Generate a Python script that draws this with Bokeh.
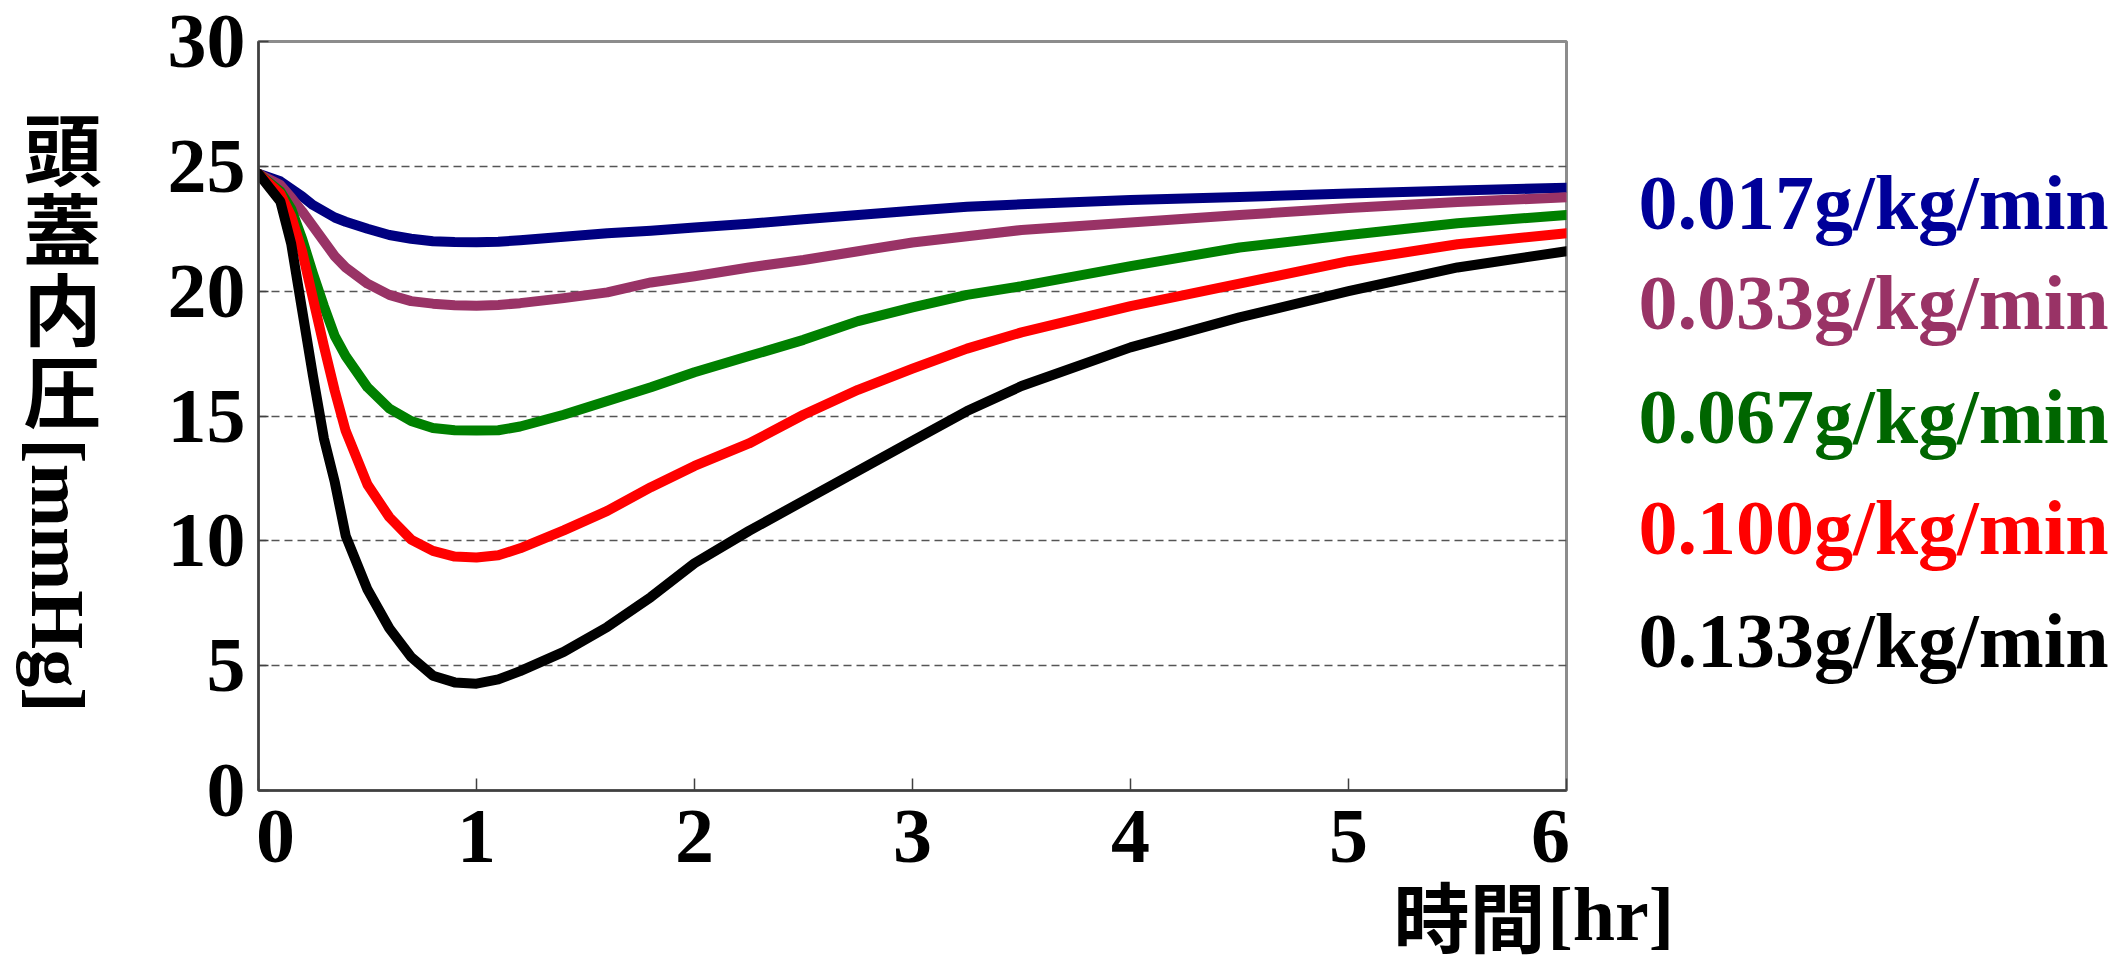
import math
from bokeh.plotting import figure
from bokeh.models import Range1d, FixedTicker
from bokeh.layouts import row, column
from bokeh.core.properties import value
from bokeh.embed import file_html
from bokeh.resources import INLINE

# ---------------- data ----------------
time_hr = [0, 0.1, 0.15, 0.2, 0.25, 0.3, 0.35, 0.4, 0.5, 0.6, 0.7, 0.8, 0.9, 1.0,
           1.1, 1.2, 1.4, 1.6, 1.8, 2.0, 2.25, 2.5, 2.75, 3.0, 3.25, 3.5, 4.0,
           4.5, 5.0, 5.5, 6.0]

icp_017 = [24.7, 24.4, 24.1, 23.8, 23.45, 23.2, 22.95, 22.78, 22.5, 22.25, 22.1,
           22.0, 21.97, 21.96, 21.98, 22.04, 22.18, 22.32, 22.42, 22.55, 22.7,
           22.88, 23.05, 23.22, 23.38, 23.48, 23.65, 23.77, 23.91, 24.03, 24.14]

icp_033 = [24.7, 24.25, 23.75, 23.2, 22.6, 22.0, 21.4, 20.95, 20.3, 19.85, 19.6,
           19.5, 19.44, 19.42, 19.45, 19.52, 19.72, 19.95, 20.35, 20.6, 20.95,
           21.25, 21.6, 21.95, 22.2, 22.45, 22.75, 23.05, 23.33, 23.57, 23.76]

icp_067 = [24.7, 24.0, 23.3, 22.1, 20.7, 19.4, 18.2, 17.4, 16.15, 15.3, 14.8,
           14.52, 14.43, 14.42, 14.43, 14.58, 15.05, 15.6, 16.15, 16.75, 17.4,
           18.05, 18.8, 19.35, 19.85, 20.2, 21.0, 21.75, 22.25, 22.72, 23.05]

icp_100 = [24.7, 23.9, 23.0, 21.6, 19.7, 17.8, 16.0, 14.4, 12.25, 10.95, 10.05,
           9.6, 9.37, 9.33, 9.42, 9.7, 10.42, 11.2, 12.15, 13.0, 13.9, 15.05,
           16.05, 16.9, 17.7, 18.35, 19.4, 20.3, 21.2, 21.88, 22.32]

icp_133 = [24.7, 23.6, 21.9, 19.25, 16.6, 14.1, 12.35, 10.2, 8.05, 6.5, 5.35,
           4.6, 4.33, 4.28, 4.45, 4.78, 5.55, 6.55, 7.75, 9.1, 10.4, 11.6, 12.8,
           14.0, 15.2, 16.2, 17.75, 18.95, 20.0, 20.95, 21.6]

series_values = [icp_017, icp_033, icp_067, icp_100, icp_133]
series_labels = ["0.017g/kg/min", "0.033g/kg/min", "0.067g/kg/min",
                 "0.100g/kg/min", "0.133g/kg/min"]
line_colors = ["#000080", "#993366", "#008000", "#FF0000", "#000000"]
text_colors = ["#000099", "#993366", "#006600", "#FF0000", "#000000"]

x_ticks = [0, 1, 2, 3, 4, 5, 6]
x_tick_labels = ["0", "1", "2", "3", "4", "5", "6"]
y_ticks = [0, 5, 10, 15, 20, 25, 30]
y_tick_labels = ["0", "5", "10", "15", "20", "25", "30"]
grid_values = [5, 10, 15, 20, 25]

y_title_cjk = ["頭", "蓋", "内", "圧"]
y_title_unit = "[mmHg]"
x_title_cjk = "時間"
x_title_unit = "[hr]"

# ---------------- layout (page pixels = screenshot pixels) ----------------
PAGE_W, PAGE_H = 2124, 964
L_W = 250                       # left strip: y tick labels + y title
F_L, F_R, F_T, F_B = 258, 1566, 41, 790   # plot frame on the page
M_R = 1600                      # right edge of the main figure
M_W = M_R - L_W
M_H = 792                       # main figure height
R_W = PAGE_W - M_R              # right strip: series labels
B_W = PAGE_W - L_W              # bottom strip: x tick labels + x title
B_H = PAGE_H - M_H

X0, X1, Y0, Y1 = 0, 6, 0, 30
PX_PER_HR = (F_R - F_L) / (X1 - X0)
PX_PER_UNIT = (F_B - F_T) / (Y1 - Y0)

SERIF = "Liberation Serif"
CJK = "Noto Sans CJK JP"
FS = "78px"


def text_strip(w, h, xr, yr, top=0, bottom=0):
    f = figure(width=w, height=h, output_backend="svg", toolbar_location=None,
               x_range=xr, y_range=yr, x_axis_type=None, y_axis_type=None,
               min_border=0, min_border_top=top, min_border_bottom=bottom)
    f.title = None
    f.grid.visible = False
    f.outline_line_color = None
    f.background_fill_color = "white"
    f.border_fill_color = "white"
    return f


def hr_at(px):
    return X0 + (px - F_L) / PX_PER_HR


def val_at(py):
    return Y0 + (F_B - py) / PX_PER_UNIT


# ---------------- main chart ----------------
p = figure(width=M_W, height=M_H, output_backend="svg", toolbar_location=None,
           x_range=Range1d(X0, X1), y_range=Range1d(Y0, Y1),
           min_border_left=F_L - L_W, min_border_right=M_R - F_R,
           min_border_top=F_T, min_border_bottom=M_H - F_B)
p.title = None
p.background_fill_color = "white"
p.border_fill_color = "white"
p.outline_line_color = "#8c8c8c"
p.outline_line_width = 3

p.xgrid.visible = False
p.ygrid.ticker = FixedTicker(ticks=grid_values)
p.ygrid.grid_line_color = "#555555"
p.ygrid.grid_line_width = 1.5
p.ygrid.grid_line_dash = "8 5"

for ax, ticks, tick_in in ((p.yaxis[0], y_ticks, 10), (p.xaxis[0], x_ticks, 12)):
    ax.ticker = FixedTicker(ticks=ticks)
    ax.major_label_overrides = {t: "" for t in ticks}
    ax.major_label_text_font_size = "1px"
    ax.major_label_standoff = 0
    ax.major_tick_in = tick_in
    ax.major_tick_out = 0
    ax.minor_tick_line_color = None
    ax.axis_line_color = "#404040"
    ax.axis_line_width = 2.5
    ax.major_tick_line_color = "#404040"
    ax.major_tick_line_width = 1.5

for vals, col in zip(series_values, line_colors):
    p.line(time_hr, vals, line_width=10, line_color=col, line_join="round",
           line_cap="round")

# ---------------- left strip: y tick labels + vertical y title ----------------
# x in page pixels, y in chart units on the same pixel scale as the plot frame
fl = text_strip(L_W, PAGE_H, Range1d(0, L_W),
                Range1d(val_at(PAGE_H), val_at(0)))
fl.text(x=[F_L - 13] * len(y_ticks), y=y_ticks, text=y_tick_labels,
        text_font=value(SERIF), text_font_style="bold", text_font_size=FS,
        text_color="black", text_align="right", text_baseline="middle")
fl.text(x=[62] * len(y_title_cjk), y=[val_at(py) for py in (145, 225, 305, 387)],
        text=y_title_cjk, text_font=value(CJK), text_font_style="bold",
        text_font_size=FS, text_color="black", text_align="center",
        text_baseline="middle")
fl.text(x=[57], y=[val_at(575)], text=[y_title_unit], text_font=value(SERIF),
        text_font_style="bold", text_font_size="76px", text_color="black",
        text_align="center", text_baseline="middle", angle=-math.pi / 2)

# ---------------- right strip: series labels (page coords) ----------------
fr = text_strip(R_W, M_H, Range1d(M_R, PAGE_W), Range1d(F_B, F_T),
                top=F_T, bottom=M_H - F_B)
fr.text(x=[1638] * len(series_labels), y=[202, 302, 416, 527, 640],
        text=series_labels, text_font=value(SERIF), text_font_style="bold",
        text_font_size=FS, text_color=text_colors, text_align="left",
        text_baseline="middle")

# ---------------- bottom strip: x tick labels + x title ----------------
# x in hours on the same pixel scale as the plot frame, y in page pixels
fb = text_strip(B_W, B_H, Range1d(hr_at(L_W), hr_at(PAGE_W)),
                Range1d(PAGE_H, M_H))
fb.text(x=x_ticks, y=[810] * len(x_ticks), text=x_tick_labels,
        x_offset=[17 if t == X0 else (-16 if t == X1 else 0) for t in x_ticks],
        text_font=value(SERIF), text_font_style="bold", text_font_size=FS,
        text_color="black", text_align="center", text_baseline="top")
fb.text(x=[hr_at(1393)], y=[913], text=[x_title_cjk], text_font=value(CJK),
        text_font_style="bold", text_font_size="76px", text_color="black",
        text_align="left", text_baseline="middle")
fb.text(x=[hr_at(1547)], y=[913], text=[x_title_unit], text_font=value(SERIF),
        text_font_style="bold", text_font_size="76px", text_color="black",
        text_align="left", text_baseline="middle")

layout = row(fl, column(row(p, fr), fb))

open("out.html", "w").write(file_html(layout, INLINE))
